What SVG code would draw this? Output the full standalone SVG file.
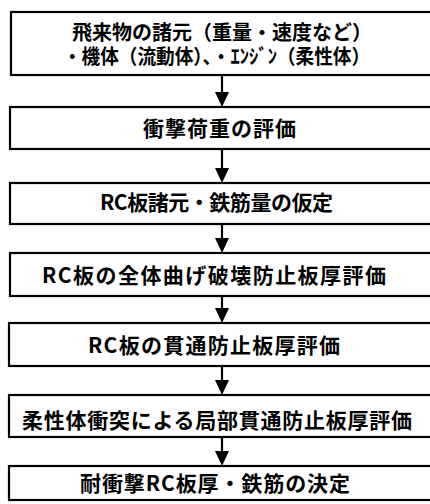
<svg xmlns="http://www.w3.org/2000/svg" width="430" height="504" viewBox="0 0 430 504">
<style>
.box{fill:#fff;stroke:#000;stroke-width:2.2}
.t{font-family:"Noto Sans CJK JP","Noto Sans",sans-serif;font-weight:bold;font-size:21px;fill:#000}
.t1{font-size:20px}
.c{stroke:#000;stroke-width:2.2;fill:none}
.ah{fill:#000}
</style>
<rect width="430" height="504" fill="#fff"/>
<g id="connectors">
<line class="c" x1="222" y1="76" x2="222" y2="94"/>
<line class="c" x1="222" y1="150" x2="222" y2="170"/>
<line class="c" x1="222" y1="225" x2="222" y2="240"/>
<line class="c" x1="222" y1="297" x2="222" y2="310"/>
<line class="c" x1="222" y1="367" x2="222" y2="382"/>
<line class="c" x1="222" y1="438" x2="222" y2="453"/>
<path class="ah" d="M215,92 L229,92 L222,107 Z M215,168 L229,168 L222,183 Z M215,238 L229,238 L222,253 Z M215,308 L229,308 L222,323 Z M215,380 L229,380 L222,395 Z M215,451 L229,451 L222,466 Z"/>
</g>
<g id="n1"><rect class="box" x="11" y="12" width="425" height="63"/>
<text class="t t1" x="72" y="40" textLength="300" lengthAdjust="spacingAndGlyphs">飛来物の諸元（重量・速度など）</text>
<text class="t t1" x="63" y="64" textLength="307" lengthAdjust="spacingAndGlyphs">・機体（流動体）、・ｴﾝｼﾞﾝ（柔性体）</text></g>
<g id="n2"><rect class="box" x="10" y="107" width="426" height="42"/>
<text class="t" x="143" y="136" textLength="153" lengthAdjust="spacing">衝撃荷重の評価</text></g>
<g id="n3"><rect class="box" x="10" y="183" width="426" height="41"/>
<text class="t" x="100" y="210" textLength="233" lengthAdjust="spacing">RC板諸元・鉄筋量の仮定</text></g>
<g id="n4"><rect class="box" x="10" y="253" width="426" height="43"/>
<text class="t" x="42" y="283" textLength="344" lengthAdjust="spacing">RC板の全体曲げ破壊防止板厚評価</text></g>
<g id="n5"><rect class="box" x="9" y="323" width="427" height="43"/>
<text class="t" x="88" y="353" textLength="252" lengthAdjust="spacing">RC板の貫通防止板厚評価</text></g>
<g id="n6"><rect class="box" x="9" y="395" width="427" height="42"/>
<text class="t" x="22" y="428" textLength="390" lengthAdjust="spacing">柔性体衝突による局部貫通防止板厚評価</text></g>
<g id="n7"><rect class="box" x="9" y="466" width="427" height="34"/>
<text class="t" x="80" y="491" textLength="270" lengthAdjust="spacing">耐衝撃RC板厚・鉄筋の決定</text></g>
</svg>
